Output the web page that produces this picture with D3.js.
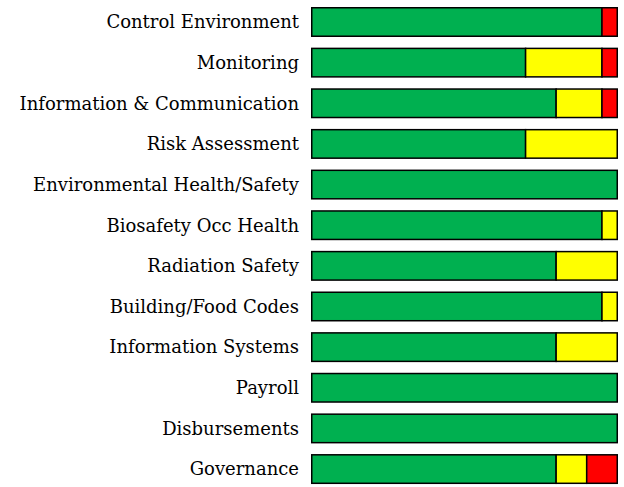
<!DOCTYPE html>
<html>
<head>
<meta charset="utf-8">
<script src="https://cdn.jsdelivr.net/npm/d3@7.9.0/dist/d3.min.js"></script>
<style>
  body { margin: 0; background: #fff; }
  svg { display: block; }
  .label { font-family: "DejaVu Serif", serif; font-size: 18px; fill: #000; }
</style>
</head>
<body>
<div id="chart"></div>
<script>
// Share of findings per area (percent)
const categories = [
  "Control Environment",
  "Monitoring",
  "Information & Communication",
  "Risk Assessment",
  "Environmental Health/Safety",
  "Biosafety Occ Health",
  "Radiation Safety",
  "Building/Food Codes",
  "Information Systems",
  "Payroll",
  "Disbursements",
  "Governance",
];
const green = [95, 70, 80, 70, 100, 95, 80, 95, 80, 100, 100, 80];
const yellow = [0, 25, 15, 30, 0, 5, 20, 5, 20, 0, 0, 10];
const red = [5, 5, 5, 0, 0, 0, 0, 0, 0, 0, 0, 10];

const keys = ["green", "yellow", "red"];
const colors = { green: "#00b050", yellow: "#ffff00", red: "#ff0000" };

const rows = categories.map((name, i) => ({
  name,
  green: green[i],
  yellow: yellow[i],
  red: red[i],
}));

const width = 624;
const height = 487;

const xScale = d3.scaleLinear().domain([0, 100]).range([311.75, 617.25]);
const yScale = d3
  .scaleBand()
  .domain(categories)
  .range([7.75, 483.3])
  .paddingInner(0.299)
  .paddingOuter(0);

const series = d3.stack().keys(keys)(rows);

const svg = d3
  .select("#chart")
  .append("svg")
  .attr("width", width)
  .attr("height", height);

svg
  .append("g")
  .selectAll("g")
  .data(series)
  .join("g")
  .attr("fill", (s) => colors[s.key])
  .selectAll("rect")
  .data((s) => s.filter((d) => d[1] > d[0]))
  .join("rect")
  .attr("x", (d) => xScale(d[0]))
  .attr("y", (d) => yScale(d.data.name))
  .attr("width", (d) => xScale(d[1]) - xScale(d[0]))
  .attr("height", yScale.bandwidth())
  .attr("stroke", "#000")
  .attr("stroke-width", 1.5);

svg
  .append("g")
  .selectAll("text")
  .data(categories)
  .join("text")
  .attr("class", "label")
  .attr("x", 299)
  .attr("y", (d) => yScale(d) + yScale.bandwidth() / 2)
  .attr("dy", "0.35em")
  .attr("text-anchor", "end")
  .text((d) => d);
</script>
</body>
</html>
